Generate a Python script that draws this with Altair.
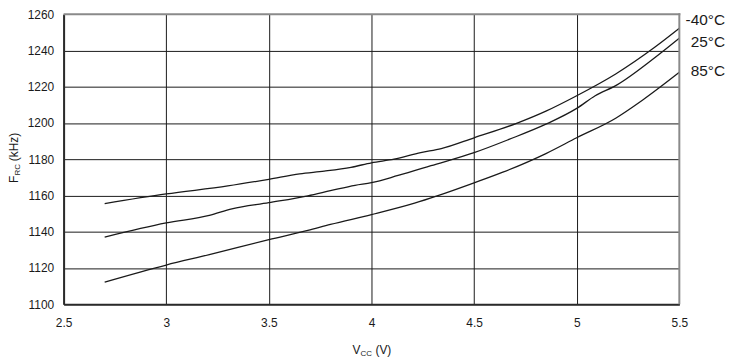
import altair as alt
import pandas as pd

# -40 °C curve
vcc_m40 = [2.70, 3.00, 3.30, 3.50, 3.65, 3.77, 3.90, 4.00, 4.11, 4.24, 4.34, 4.50, 4.71, 4.85, 5.00, 5.19, 5.38, 5.50]
frc_m40 = [1155.5, 1160.8, 1165.2, 1168.9, 1171.9, 1173.4, 1175.5, 1178.0, 1180.0, 1183.6, 1185.8, 1191.8, 1199.9, 1206.5, 1215.0, 1227.0, 1241.7, 1252.2]
# 25 °C curve
vcc_25 = [2.70, 3.00, 3.21, 3.32, 3.50, 3.69, 3.80, 3.92, 4.00, 4.13, 4.29, 4.50, 4.67, 4.85, 5.00, 5.09, 5.19, 5.38, 5.50]
frc_25 = [1137.0, 1144.8, 1149.0, 1152.6, 1156.0, 1159.8, 1162.6, 1165.6, 1167.0, 1171.0, 1176.4, 1183.6, 1190.9, 1199.3, 1208.0, 1215.0, 1220.6, 1236.0, 1246.8]
# 85 °C curve
vcc_85 = [2.70, 3.00, 3.21, 3.50, 3.69, 3.80, 4.00, 4.21, 4.32, 4.50, 4.64, 4.85, 5.00, 5.19, 5.32, 5.50]
frc_85 = [1112.2, 1121.6, 1127.3, 1135.6, 1140.7, 1144.0, 1149.4, 1155.7, 1159.7, 1166.9, 1172.8, 1183.1, 1191.8, 1202.6, 1212.5, 1227.9]

series_names = ["-40°C", "25°C", "85°C"]
label_y = [1256.6, 1244.5, 1228.7]
x_ticks = [2.5, 3, 3.5, 4, 4.5, 5, 5.5]
y_ticks = [1100, 1120, 1140, 1160, 1180, 1200, 1220, 1240, 1260]

rows = []
for name, xs, ys in zip(series_names, [vcc_m40, vcc_25, vcc_85], [frc_m40, frc_25, frc_85]):
    for xv, yv in zip(xs, ys):
        rows.append({"series": name, "vcc": xv, "frc": yv})
df = pd.DataFrame(rows)
labels = pd.DataFrame({"series": series_names, "vcc": [5.5] * 3, "frc": label_y})

FONT = "Liberation Sans"
W, H = 620, 292
INK = "#1a1a1a"

xscale = alt.Scale(domain=[2.5, 5.5], nice=False, zero=False)
yscale = alt.Scale(domain=[1100, 1260], nice=False, zero=False)

grid_op = {"condition": {"test": "datum.value >= 1259 || (datum.value >= 5.49 && datum.value <= 5.51)", "value": 0}, "value": 1}

x_axis = alt.Axis(values=x_ticks, format="~g", title=None, ticks=False, labelFlush=False,
                  labelOverlap=False, labelPadding=14, labelFontSize=12, labelFont=FONT,
                  labelColor=INK, domainColor="#2a2a2a", domainWidth=2,
                  gridColor=INK, gridWidth=1, gridOpacity=grid_op)
y_axis = alt.Axis(values=y_ticks, format="d", title=None, ticks=False, labelFlush=False,
                  labelOverlap=False, labelPadding=10, labelFontSize=12, labelFont=FONT,
                  labelColor=INK, domainColor="#2a2a2a", domainWidth=2,
                  gridColor=INK, gridWidth=1, gridOpacity=grid_op)

lines = alt.Chart(df).mark_line(color=INK, strokeWidth=1.3, interpolate="monotone").encode(
    x=alt.X("vcc:Q", scale=xscale, axis=x_axis),
    y=alt.Y("frc:Q", scale=yscale, axis=y_axis),
    detail="series:N",
)

one = pd.DataFrame({"t": [0]})
top_border = alt.Chart(one).mark_rule(color="#8a8a8a", strokeWidth=2).encode(
    x=alt.value(0), x2=alt.value(W + 1), y=alt.value(0))
right_border = alt.Chart(one).mark_rule(color="#8a8a8a", strokeWidth=2).encode(
    x=alt.value(W), y=alt.value(-1), y2=alt.value(H))

text_labels = alt.Chart(labels).mark_text(
    align="right", baseline="middle", dx=46, fontSize=15.5, font=FONT, color=INK
).encode(x=alt.X("vcc:Q", scale=xscale, axis=x_axis),
         y=alt.Y("frc:Q", scale=yscale, axis=y_axis), text="series:N")

def txt(s, x, y, size, angle=0):
    return alt.Chart(one).mark_text(
        text=s, align="left", baseline="alphabetic", fontSize=size, font=FONT, color=INK, angle=angle
    ).encode(x=alt.value(x), y=alt.value(y))

titles = [
    txt("V", 291, 342, 12),
    txt("CC", 299, 344, 8),
    txt("(V)", 314, 342, 12),
    txt("F", -46, 170, 12, 270),
    txt("RC", -44, 162.5, 8, 270),
    txt("(kHz)", -46, 148, 12, 270),
]

chart = alt.layer(lines, top_border, right_border, text_labels, *titles).properties(
    width=W, height=H,
    autosize=alt.AutoSizeParams(type="none"),
    padding={"left": 56, "top": 5, "right": 48, "bottom": 52},
).configure_view(stroke=None)

chart.save("out.html", embed_options={"renderer": "svg", "actions": False})
